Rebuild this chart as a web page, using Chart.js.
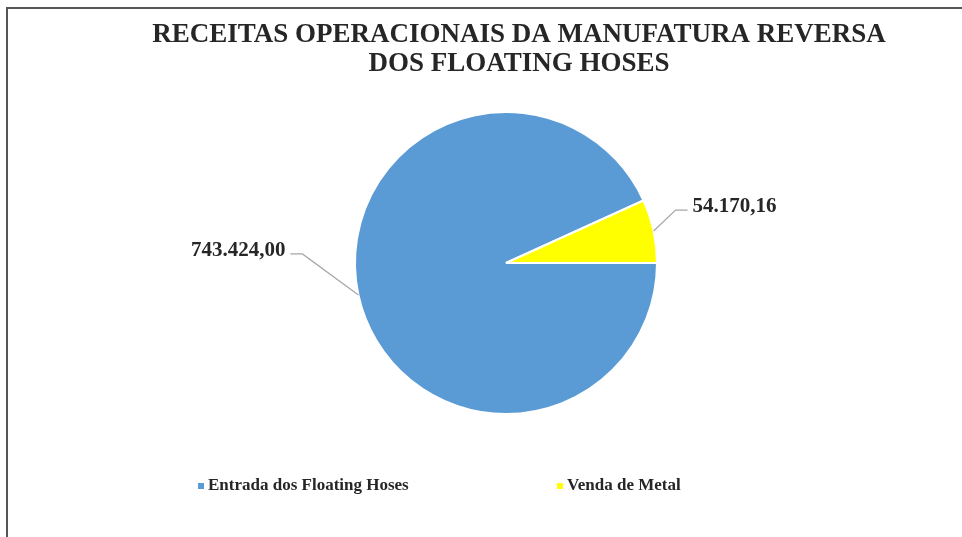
<!DOCTYPE html>
<html>
<head>
<meta charset="utf-8">
<script src="https://cdn.jsdelivr.net/npm/chart.js@4.4.1/dist/chart.umd.min.js"></script>
<style>
  html, body { margin: 0; padding: 0; background: #fff; }
  #wrap { position: relative; width: 962px; height: 537px; overflow: hidden; }
  #frame {
    position: absolute; left: 6px; top: 7px; width: 960px; height: 540px;
    border-top: 2px solid #555; border-left: 2px solid #555;
  }
  #pieCanvas { position: absolute; left: 0; top: 0; }
</style>
</head>
<body>
<div id="wrap">
  <div id="frame"></div>
  <canvas id="pieCanvas" width="962" height="537"></canvas>
</div>
<script>
// ===== 資料 =====
const titleLines = ["RECEITAS OPERACIONAIS DA MANUFATURA REVERSA", "DOS FLOATING HOSES"];
const categories = ["Entrada dos Floating Hoses", "Venda de Metal"];
const values = [743424.0, 54170.16];
const valueLabels = ["743.424,00", "54.170,16"];
const colors = ["#5B9BD5", "#FFFF00"];

const textColor = "#262626";
const serifBold = (size) => `bold ${size}px "Liberation Serif", "Times New Roman", serif`;

// 標籤的引線偏移 (elbow) — 依扇形
const leaderOffsets = [{ dx: -56, dy: -41, dir: -1 }, { dx: 22, dy: -21, dir: 1 }];

const decorPlugin = {
  id: "decor",
  afterDraw(chart) {
    const ctx = chart.ctx;
    ctx.save();

    // 標題
    ctx.fillStyle = textColor;
    ctx.font = serifBold(27);
    ctx.textAlign = "center";
    ctx.textBaseline = "alphabetic";
    ctx.fillText(titleLines[0], 519, 42, 736);
    ctx.fillText(titleLines[1], 519, 71);

    // 資料標籤 + 引線
    const meta = chart.getDatasetMeta(0);
    meta.data.forEach((arc, i) => {
      const mid = (arc.startAngle + arc.endAngle) / 2;
      const px = arc.x + Math.cos(mid) * arc.outerRadius;
      const py = arc.y + Math.sin(mid) * arc.outerRadius;
      const o = leaderOffsets[i];
      const ex = px + o.dx, ey = py + o.dy;
      const hx = ex + o.dir * 12;
      ctx.strokeStyle = "#a6a6a6";
      ctx.lineWidth = 1.2;
      ctx.beginPath();
      ctx.moveTo(px, py);
      ctx.lineTo(ex, ey);
      ctx.lineTo(hx, ey);
      ctx.stroke();
      ctx.fillStyle = textColor;
      ctx.font = serifBold(21);
      ctx.textBaseline = "middle";
      ctx.textAlign = o.dir < 0 ? "right" : "left";
      ctx.fillText(valueLabels[i], hx + o.dir * 5, ey - 3);
    });

    // 圖例
    const legendX = [198, 557];
    ctx.font = serifBold(17);
    ctx.textAlign = "left";
    ctx.textBaseline = "middle";
    categories.forEach((name, i) => {
      ctx.fillStyle = colors[i];
      ctx.fillRect(legendX[i], 483, 6, 6);
      ctx.fillStyle = textColor;
      ctx.fillText(name, legendX[i] + 10, 486);
    });

    ctx.restore();
  },
};

const canvas = document.getElementById("pieCanvas");
new Chart(canvas, {
  type: "pie",
  data: {
    labels: categories,
    datasets: [
      {
        data: values,
        backgroundColor: colors,
        borderColor: "#ffffff",
        borderWidth: 2,
      },
    ],
  },
  options: {
    responsive: false,
    animation: false,
    rotation: 90,
    layout: { padding: { left: 354, right: 304, top: 111, bottom: 122 } },
    plugins: {
      legend: { display: false },
      title: { display: false },
      tooltip: { enabled: false },
    },
  },
  plugins: [decorPlugin],
});
</script>
</body>
</html>
